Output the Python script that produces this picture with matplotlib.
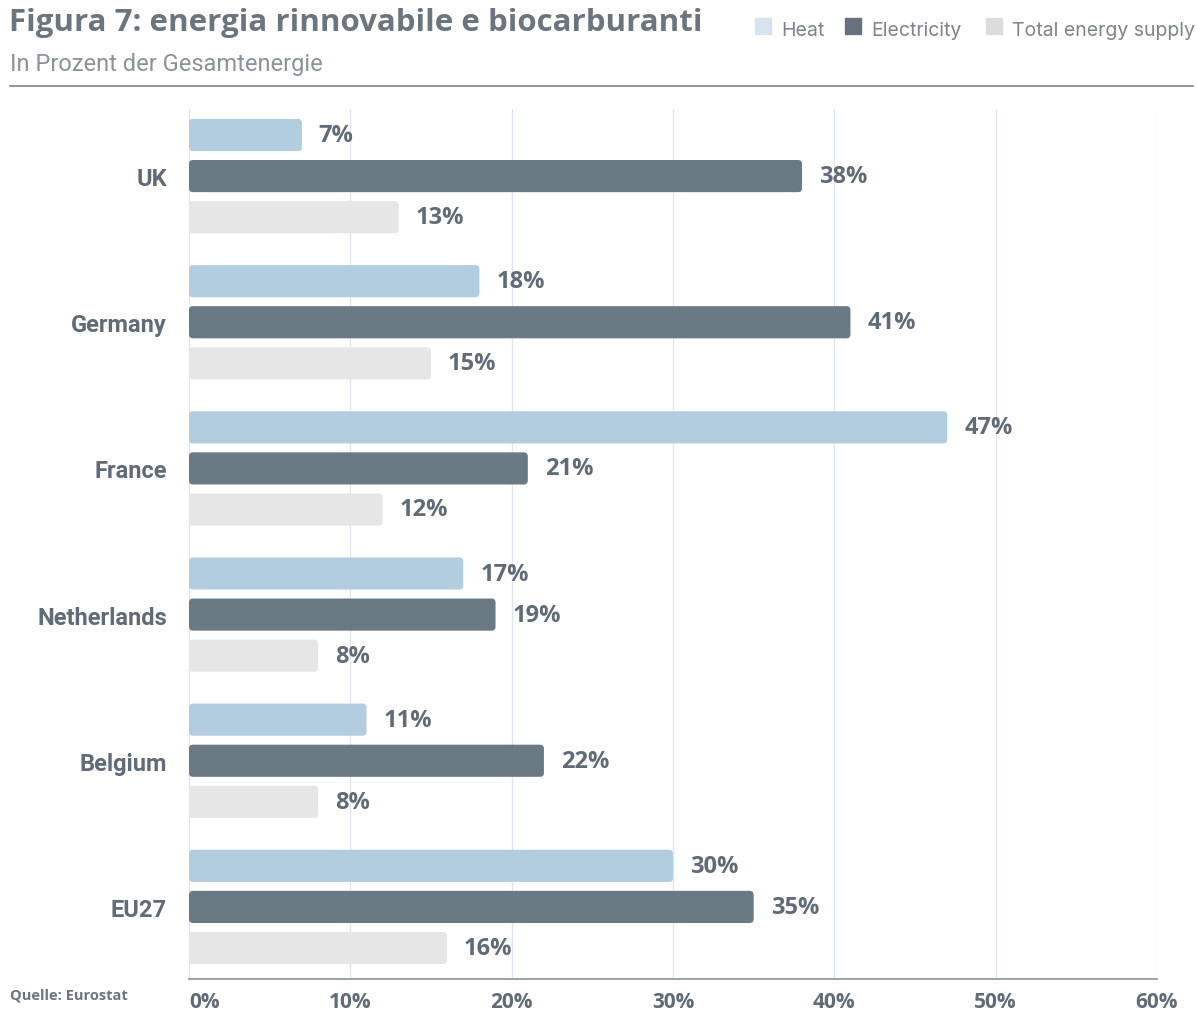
import matplotlib.pyplot as plt
from matplotlib.patches import FancyBboxPatch
import numpy as np

countries = ["UK", "Germany", "France", "Netherlands", "Belgium", "EU27"]
heat = [7, 18, 47, 17, 11, 30]
electricity = [38, 41, 21, 19, 22, 35]
total_supply = [13, 15, 12, 8, 8, 16]
ticks = [0, 10, 20, 30, 40, 50, 60]

c_heat = "#b3cde0"
c_elec = "#6a7a84"
c_total = "#e6e6e6"
txt = "#5f6b77"

fig = plt.figure(figsize=(11.97, 10.12), dpi=100)
ax = fig.add_axes([189 / 1197, 32 / 1012, 968 / 1197, 870 / 1012])

y = np.arange(len(countries))
off = 0.281
h = 0.22
# corner radius ~4px: x units are 16.1 px/%, y units 146 px/row
r = 0.25
asp = (4 / 146) / r
series = [(heat, -off, c_heat), (electricity, 0, c_elec), (total_supply, off, c_total)]
for vals, dy, col in series:
    bars = ax.barh(y + dy, vals, height=h, color=col, zorder=3)
    for b, v in zip(bars, vals):
        b.set_visible(False)
        ax.add_patch(FancyBboxPatch((b.get_x(), b.get_y()), b.get_width(), b.get_height(),
                                    boxstyle=f"round,pad=0,rounding_size={r}",
                                    mutation_aspect=asp, fc=col, ec="none", zorder=3))
        ax.text(v + 1.05, b.get_y() + h / 2, f"{v}%", va="center", ha="left",
                fontsize=17, fontweight="bold", color=txt, family="Open Sans", zorder=4)

ax.set_xlim(0, 60)
ax.set_ylim(5 + 72 / 146, -67 / 146)
ax.set_xticks(ticks)
ax.set_xticklabels([f"{t}%" for t in ticks], fontsize=15, fontweight="bold",
                   color=txt, family="Open Sans")
ax.get_xticklabels()[0].set_ha("left")
ax.tick_params(axis="x", length=0, pad=9)
ax.set_yticks(y)
ax.set_yticklabels(countries, fontsize=17, fontweight="bold", color=txt, family="Roboto")
ax.tick_params(axis="y", length=0, pad=16)
ax.grid(axis="x", color="#dde6ef", linewidth=1, zorder=0)
for s in ["top", "right"]:
    ax.spines[s].set_visible(False)
ax.spines["left"].set_color("#dde6ef")
ax.spines["bottom"].set_color("#8a949d")
ax.spines["bottom"].set_linewidth(1.2)

# heading, subtitle and rule
fig.text(9 / 1197, 1 - 23 / 1012, "Figura 7: energia rinnovabile e biocarburanti",
         fontsize=22.5, fontweight="bold", color="#6b7580", family="Open Sans", va="center")
fig.text(10 / 1197, 1 - 64 / 1012, "In Prozent der Gesamtenergie",
         fontsize=17, color="#8a939b", family="Roboto", va="center")
fig.add_artist(plt.Line2D([10 / 1197, 1193 / 1197], [1 - 87 / 1012] * 2,
                          color="#7a838c", linewidth=1.2))

# legend
leg_items = [(755, "Heat", "#d6e4ef"), (845, "Electricity", "#67717c"),
             (986, "Total energy supply", "#dcdcdc")]
for x0, label, col in leg_items:
    fig.patches.append(plt.Rectangle((x0 / 1197, 1 - 35 / 1012), 16 / 1197, 16 / 1012,
                                     transform=fig.transFigure, color=col))
    fig.text((x0 + 26) / 1197, 1 - 31 / 1012, label, fontsize=14, color="#7b848d",
             family="Inter", va="center")

fig.text(10 / 1197, 1 - 996 / 1012, "Quelle: Eurostat", fontsize=10.5,
         fontweight="bold", color="#6b7580", family="Open Sans", va="center")

fig.savefig("out.png", dpi=100)
